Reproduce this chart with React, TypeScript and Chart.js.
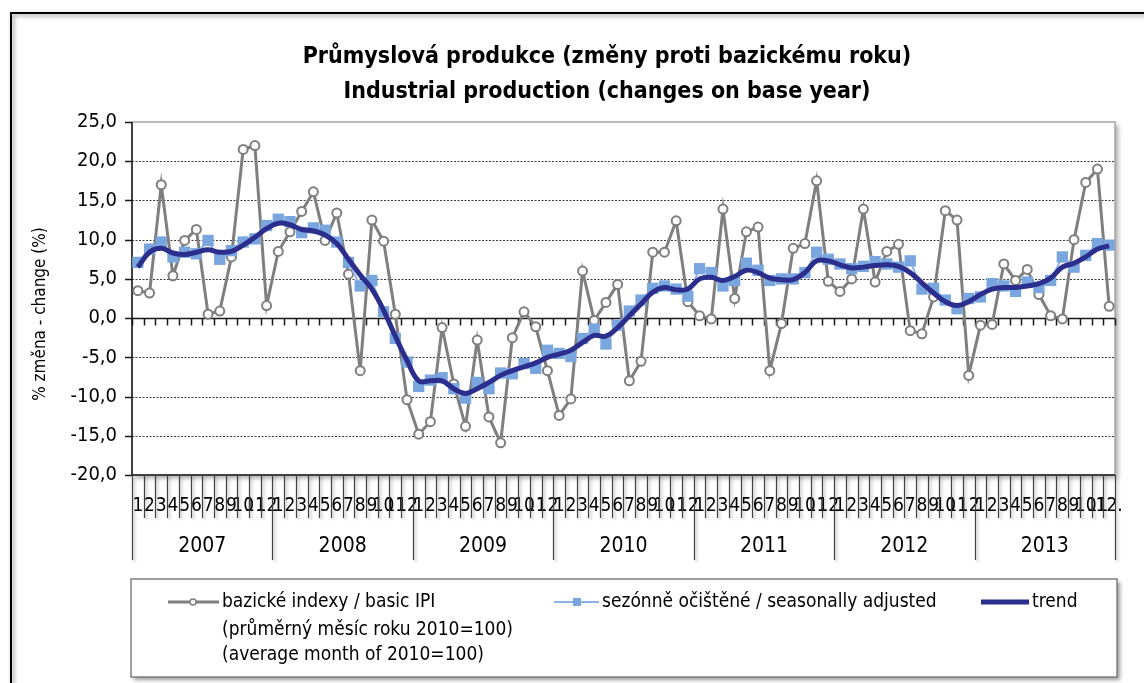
import React, { useEffect, useRef } from "react";
import { Chart, registerables } from "chart.js";

Chart.register(...registerables);

const TITLE_CZ = "Průmyslová produkce (změny proti bazickému roku)";
const TITLE_EN = "Industrial production (changes on base year)";
const Y_TITLE = "% změna - change (%)";

const YEARS = ["2007", "2008", "2009", "2010", "2011", "2012", "2013"];
const MONTHS = ["1", "2", "3", "4", "5", "6", "7", "8", "9", "10", "11", "12"];
const CATEGORIES = YEARS.flatMap((y, yi) =>
  MONTHS.map((m, mi) => (yi === YEARS.length - 1 && mi === 11 ? "12." : m))
);

const Y_MIN = -20;
const Y_MAX = 25;
const Y_STEP = 5;

const BASIC_IPI = [
  3.5, 3.2, 17.0, 5.4, 9.9, 11.3, 0.5, 0.9, 7.8, 21.5, 22.0, 1.6,
  8.5, 11.0, 13.6, 16.1, 9.9, 13.4, 5.6, -6.7, 12.5, 9.8, 0.5, -10.4,
  -14.8, -13.2, -1.2, -8.4, -13.8, -2.8, -12.6, -15.9, -2.5, 0.8, -1.1, -6.7,
  -12.4, -10.3, 6.0, -0.3, 2.0, 4.3, -8.0, -5.5, 8.4, 8.4, 12.4, 2.1,
  0.3, -0.1, 13.9, 2.5, 11.0, 11.6, -6.7, -0.7, 8.9, 9.5, 17.5, 4.7,
  3.4, 5.0, 13.9, 4.6, 8.5, 9.4, -1.6, -2.0, 2.7, 13.7, 12.5, -7.3,
  -0.9, -0.8, 6.9, 4.8, 6.2, 3.0, 0.3, -0.1, 10.0, 17.3, 19.0, 1.5,
];

const SEASONALLY_ADJUSTED = [
  7.1, 8.8, 9.7, 7.8, 8.4, 8.2, 9.9, 7.5, 8.6, 9.7, 10.1, 11.8,
  12.6, 12.3, 10.9, 11.5, 11.2, 9.7, 7.1, 4.1, 4.8, 0.8, -2.6, -5.6,
  -8.7, -7.9, -7.6, -9.0, -10.2, -8.2, -9.0, -7.0, -7.1, -5.8, -6.4, -4.1,
  -4.5, -4.9, -2.6, -1.4, -3.3, -0.9, 0.9, 2.3, 3.8, 4.1, 3.7, 2.8,
  6.3, 5.8, 4.1, 4.8, 7.0, 6.1, 4.8, 5.0, 5.0, 5.8, 8.4, 7.5,
  6.9, 6.3, 6.6, 7.2, 6.9, 6.5, 7.3, 3.7, 3.8, 2.3, 1.2, 2.5,
  2.7, 4.4, 4.1, 3.4, 4.6, 3.9, 4.8, 7.8, 6.5, 8.0, 9.5, 9.3,
];

const TREND = [
  6.5, 8.4, 8.9, 8.3, 8.1, 8.4, 8.7, 8.4, 8.5, 9.3, 10.3, 11.4,
  12.1, 11.9, 11.3, 11.1, 10.6, 9.5, 7.5, 5.5, 3.7, 1.0, -2.3, -5.4,
  -8.0, -8.0, -8.0, -9.0, -9.6, -9.0, -8.2, -7.3, -6.7, -6.2, -5.7, -5.0,
  -4.6, -4.1, -3.1, -2.2, -2.3, -1.2, 0.3, 1.8, 3.3, 3.9, 3.6, 3.7,
  5.0, 5.2, 4.8, 5.3, 6.1, 5.8, 5.1, 4.9, 4.9, 5.8, 7.3, 7.3,
  6.8, 6.4, 6.5, 6.7, 6.8, 6.6, 5.8, 4.5, 3.2, 2.1, 1.6, 2.1,
  3.0, 3.7, 3.9, 3.9, 4.1, 4.4, 5.1, 6.5, 7.0, 7.8, 8.8, 9.2,
];

const LEGEND_BASIC = [
  "bazické indexy / basic IPI",
  "(průměrný měsíc roku 2010=100)",
  "(average month of 2010=100)",
];
const LEGEND_SA = "sezónně očištěné / seasonally adjusted";
const LEGEND_TREND = "trend";

const FONT = "'Liberation Sans Narrow', 'DejaVu Sans Condensed', 'Liberation Sans', sans-serif";
const GRAY = "#7f7f7f";
const LIGHT_BLUE = "#7aa6df";
const LIGHT_BLUE_LINE = "#8db3e2";
const NAVY = "#2b2e8c";

const W = 1144;
const H = 683;

const decorPlugin = {
  id: "decor",
  beforeDraw(chart: any) {
    const { ctx, chartArea: a } = chart;
    ctx.save();
    ctx.fillStyle = "#fff";
    ctx.fillRect(0, 0, chart.width, chart.height);

    // outer frame
    ctx.save();
    ctx.strokeStyle = "#000";
    ctx.lineWidth = 2;
    ctx.shadowColor = "rgba(0,0,0,0.45)";
    ctx.shadowBlur = 4;
    ctx.shadowOffsetX = 2;
    ctx.shadowOffsetY = 2;
    ctx.beginPath();
    ctx.moveTo(11, chart.height + 5);
    ctx.lineTo(11, 13);
    ctx.lineTo(chart.width + 5, 13);
    ctx.stroke();
    ctx.restore();

    // plot area with shadow
    ctx.save();
    ctx.shadowColor = "rgba(0,0,0,0.35)";
    ctx.shadowBlur = 5;
    ctx.shadowOffsetX = 3;
    ctx.shadowOffsetY = 3;
    ctx.fillStyle = "#fff";
    ctx.fillRect(a.left, a.top, a.right - a.left, a.bottom - a.top);
    ctx.restore();
    ctx.strokeStyle = "#a6a6a6";
    ctx.lineWidth = 1.5;
    ctx.strokeRect(a.left, a.top, a.right - a.left, a.bottom - a.top);

    // titles
    ctx.fillStyle = "#000";
    ctx.textAlign = "center";
    ctx.textBaseline = "middle";
    ctx.font = `bold 23px ${FONT}`;
    ctx.fillText(TITLE_CZ, 607, 57);
    ctx.fillText(TITLE_EN, 607, 92);

    // y title
    ctx.save();
    ctx.translate(41, 314);
    ctx.rotate(-Math.PI / 2);
    ctx.font = `17px ${FONT}`;
    ctx.fillText(Y_TITLE, 0, 0);
    ctx.restore();

    // legend box
    ctx.save();
    ctx.shadowColor = "rgba(0,0,0,0.4)";
    ctx.shadowBlur = 4;
    ctx.shadowOffsetX = 3;
    ctx.shadowOffsetY = 3;
    ctx.fillStyle = "#fff";
    ctx.fillRect(131, 579, 986, 98);
    ctx.restore();
    ctx.strokeStyle = "#7f7f7f";
    ctx.lineWidth = 1.5;
    ctx.strokeRect(131, 579, 986, 98);

    ctx.textAlign = "left";
    ctx.font = `19px ${FONT}`;
    ctx.fillStyle = "#000";
    // basic
    ctx.strokeStyle = GRAY;
    ctx.lineWidth = 3;
    ctx.beginPath();
    ctx.moveTo(168, 602);
    ctx.lineTo(219, 602);
    ctx.stroke();
    ctx.beginPath();
    ctx.arc(193, 602, 3, 0, Math.PI * 2);
    ctx.fillStyle = "#fff";
    ctx.fill();
    ctx.lineWidth = 1.5;
    ctx.stroke();
    ctx.fillStyle = "#000";
    ctx.fillText(LEGEND_BASIC[0], 222, 602);
    ctx.fillText(LEGEND_BASIC[1], 222, 630);
    ctx.fillText(LEGEND_BASIC[2], 222, 655);
    // SA
    ctx.strokeStyle = LIGHT_BLUE_LINE;
    ctx.lineWidth = 2;
    ctx.beginPath();
    ctx.moveTo(554, 602);
    ctx.lineTo(599, 602);
    ctx.stroke();
    ctx.fillStyle = LIGHT_BLUE;
    ctx.fillRect(573, 598, 8, 8);
    ctx.fillStyle = "#000";
    ctx.fillText(LEGEND_SA, 602, 602);
    // trend
    ctx.strokeStyle = NAVY;
    ctx.lineWidth = 5;
    ctx.beginPath();
    ctx.moveTo(981, 602);
    ctx.lineTo(1029, 602);
    ctx.stroke();
    ctx.fillText(LEGEND_TREND, 1032, 602);
    ctx.restore();
  },
  beforeDatasetsDraw(chart: any) {
    const { ctx, chartArea: a, scales } = chart;
    const x = scales.x;
    const y = scales.y;
    ctx.save();
    // gridlines
    ctx.strokeStyle = "#3a3a3a";
    ctx.lineWidth = 1;
    for (let v = Y_MIN + Y_STEP; v < Y_MAX; v += Y_STEP) {
      if (v === 0) continue;
      const py = Math.round(y.getPixelForValue(v)) + 0.5;
      ctx.setLineDash([2, 1.5]);
      ctx.beginPath();
      ctx.moveTo(a.left, py);
      ctx.lineTo(a.right, py);
      ctx.stroke();
    }
    ctx.setLineDash([]);

    const n = CATEGORIES.length;
    const step = x.getPixelForValue(1) - x.getPixelForValue(0);
    const bound = (k: number) => x.getPixelForValue(0) - step / 2 + k * step;

    // zero line with ticks
    const y0 = Math.round(y.getPixelForValue(0)) + 0.5;
    ctx.strokeStyle = "#1a1a1a";
    ctx.lineWidth = 1.5;
    ctx.beginPath();
    ctx.moveTo(a.left, y0);
    ctx.lineTo(a.right, y0);
    ctx.stroke();
    ctx.beginPath();
    for (let k = 0; k <= n; k++) {
      const px = Math.round(bound(k)) + 0.5;
      ctx.moveTo(px, y0);
      ctx.lineTo(px, y0 + 7);
    }
    ctx.stroke();

    // left axis
    ctx.beginPath();
    ctx.moveTo(a.left, a.top);
    ctx.lineTo(a.left, a.bottom);
    for (let v = Y_MIN; v <= Y_MAX; v += Y_STEP) {
      const py = Math.round(y.getPixelForValue(v)) + 0.5;
      ctx.moveTo(a.left - 7, py);
      ctx.lineTo(a.left, py);
    }
    ctx.stroke();

    // bottom axis line
    ctx.beginPath();
    ctx.moveTo(a.left, a.bottom);
    ctx.lineTo(a.right, a.bottom);
    ctx.stroke();

    // category separators (month row) and year separators
    ctx.save();
    ctx.shadowColor = "rgba(0,0,0,0.3)";
    ctx.shadowBlur = 3;
    ctx.shadowOffsetX = 2;
    ctx.shadowOffsetY = 2;
    ctx.strokeStyle = "#404040";
    ctx.lineWidth = 1.2;
    ctx.beginPath();
    for (let k = 0; k <= n; k++) {
      const px = Math.round(bound(k)) + 0.5;
      const isYear = k % 12 === 0;
      ctx.moveTo(px, a.bottom);
      ctx.lineTo(px, isYear ? a.bottom + 85 : a.bottom + 43);
    }
    ctx.stroke();
    ctx.restore();

    // year labels
    ctx.fillStyle = "#000";
    ctx.font = `21px ${FONT}`;
    ctx.textAlign = "center";
    ctx.textBaseline = "middle";
    YEARS.forEach((yr, i) => {
      const cx = (bound(i * 12) + bound(i * 12 + 12)) / 2;
      ctx.fillText(yr, cx, a.bottom + 72);
    });
    ctx.restore();
  },
};

export default function App() {
  const ref = useRef<HTMLCanvasElement | null>(null);
  useEffect(() => {
    if (!ref.current) return;
    const chart = new Chart(ref.current, {
      type: "line",
      data: {
        labels: CATEGORIES,
        datasets: [
          {
            label: LEGEND_TREND,
            data: TREND,
            borderColor: NAVY,
            borderWidth: 5,
            pointRadius: 0,
            tension: 0.4,
            order: 0,
          },
          {
            label: LEGEND_SA,
            data: SEASONALLY_ADJUSTED,
            borderColor: LIGHT_BLUE_LINE,
            borderWidth: 2,
            pointStyle: "rect",
            pointRadius: 8,
            pointBackgroundColor: LIGHT_BLUE,
            pointBorderColor: LIGHT_BLUE,
            pointBorderWidth: 0,
            tension: 0,
            order: 1,
          },
          {
            label: LEGEND_BASIC[0],
            data: BASIC_IPI,
            borderColor: GRAY,
            borderWidth: 3,
            pointStyle: "circle",
            pointRadius: 4.5,
            pointBackgroundColor: "#fff",
            pointBorderColor: GRAY,
            pointBorderWidth: 2,
            tension: 0,
            order: 2,
          },
        ],
      },
      options: {
        animation: false,
        responsive: false,
        devicePixelRatio: 1,
        layout: { padding: { left: 52, right: 29, top: 122, bottom: 148 } },
        plugins: {
          legend: { display: false },
          title: { display: false },
          tooltip: { enabled: false },
        },
        scales: {
          x: {
            type: "category",
            offset: true,
            grid: { display: false, drawTicks: false },
            border: { display: false },
            ticks: {
              autoSkip: false,
              maxRotation: 0,
              minRotation: 0,
              padding: 20,
              color: "#000",
              font: { family: FONT, size: 19 },
            },
            afterFit: (s: any) => {
              s.height = 60;
            },
          },
          y: {
            min: Y_MIN,
            max: Y_MAX,
            grid: { display: false, drawTicks: false },
            border: { display: false },
            ticks: {
              stepSize: Y_STEP,
              padding: 15,
              color: "#000",
              font: { family: FONT, size: 20 },
              callback: (v: any) => Number(v).toFixed(1).replace(".", ","),
            },
            afterFit: (s: any) => {
              s.width = 80;
            },
          },
        },
      },
      plugins: [decorPlugin],
    });
    return () => chart.destroy();
  }, []);
  return (
    <div style={{ position: "absolute", left: 0, top: 0, width: W, height: H }}>
      <canvas ref={ref} width={W} height={H} style={{ display: "block" }} />
    </div>
  );
}
